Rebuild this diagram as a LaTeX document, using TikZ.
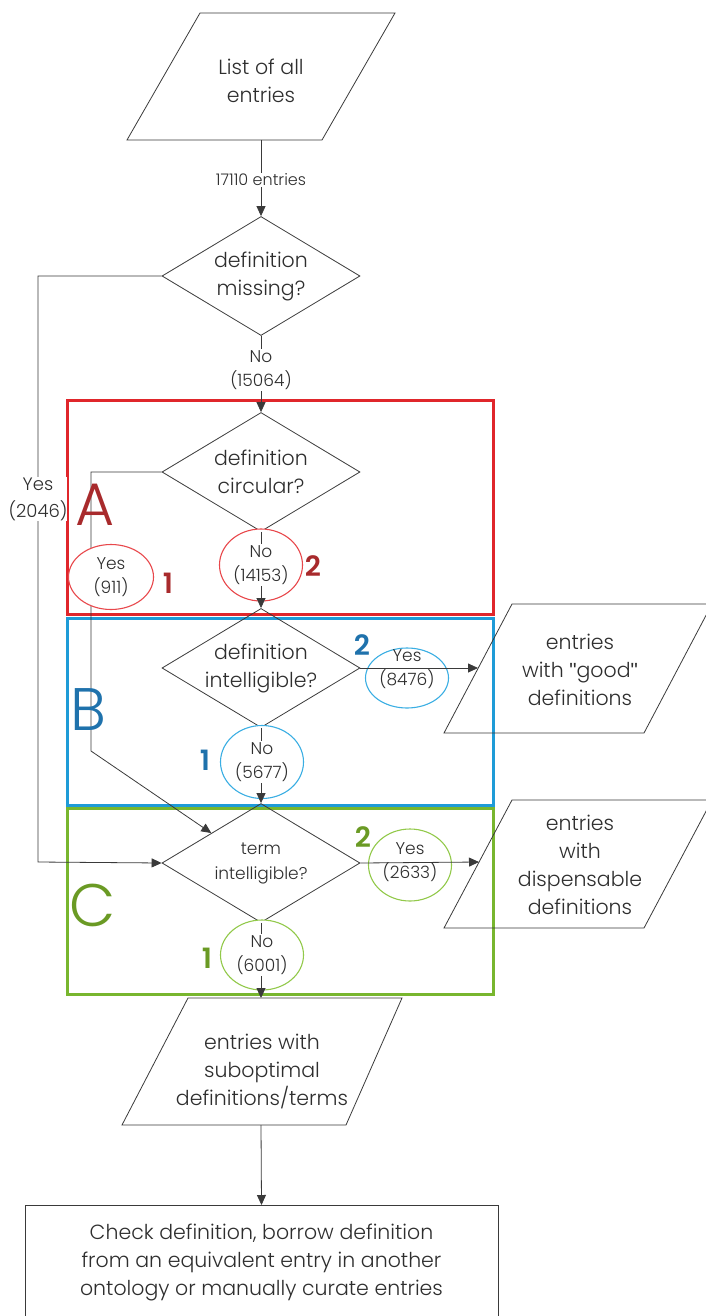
\documentclass[tikz,border=0pt]{standalone}
\usepackage{fontspec}
\setmainfont{Poppins}[UprightFont=* Light, BoldFont=* SemiBold]
\newfontfamily\qfont{Liberation Sans}
\usetikzlibrary{shapes.geometric,arrows.meta}
\definecolor{ln}{HTML}{3A3A3A}
\definecolor{txt}{HTML}{2E2E2E}
\definecolor{redbox}{HTML}{E0262B}
\definecolor{redov}{HTML}{E8474B}
\definecolor{redlt}{HTML}{A82A2C}
\definecolor{bluebox}{HTML}{1E9BD7}
\definecolor{blueov}{HTML}{3AAEE3}
\definecolor{bluelt}{HTML}{1F72AC}
\definecolor{greenbox}{HTML}{78B62E}
\definecolor{greenov}{HTML}{92C94A}
\definecolor{greenlt}{HTML}{6A9A24}
\newcommand{\dq}{{\qfont\char"22}}
\begin{document}
\begin{tikzpicture}[x=1pt,y=-1pt,
  every node/.style={text=txt, font=\fontsize{20.5}{28}\selectfont, align=center},
  dec/.style={diamond, draw=ln, line width=0.8pt, aspect=1.6, minimum width=198pt, minimum height=119pt, inner sep=0pt},
  oval/.style={ellipse, line width=1.1pt, fill=white, minimum width=83pt, minimum height=72pt, inner sep=0pt},
  lbl/.style={font=\fontsize{17}{24}\selectfont, inner sep=1pt},
  conn/.style={draw=ln, line width=0.8pt},
  arr/.style={conn, -{Triangle[length=10pt,width=9pt]}},
  zone/.style={line width=3pt},
  big/.style={font=\fontsize{60}{60}\selectfont, inner sep=0pt},
  num/.style={font=\bfseries\fontsize{28}{28}\selectfont, inner sep=0pt},
]
\useasboundingbox (0,0) rectangle (706,1316);
% zones
\draw[zone, draw=redbox] (67,400) rectangle (493,614);
\draw[zone, draw=bluebox] (67,618) rectangle (493,805);
\draw[zone, draw=greenbox] (67,808) rectangle (493,994);
% start parallelogram
\coordinate (s1) at (200,13); \coordinate (s2) at (395,13);
\coordinate (s3) at (322,140); \coordinate (s4) at (127,140);
\draw[conn] (s1) -- (s2) -- (s3) -- (s4) -- cycle;
\node (start) at (261,81) {List of all\\entries};
\coordinate (sb) at (261,140);
% decisions
\node[dec] (d1) at (261,276) {definition\\missing?};
\node[dec] (d2) at (261,472) {definition\\circular?};
\node[dec] (d3) at (261,668) {definition\\intelligible?};
\node[dec, font=\fontsize{17}{25}\selectfont] (dC) at (261,863) {term\\intelligible?};
% good parallelogram
\coordinate (g1) at (512,604); \coordinate (g2) at (712,604);
\coordinate (g3) at (644,733); \coordinate (g4) at (444,733);
\draw[conn] (g1) -- (g2) -- (g3) -- (g4) -- cycle;
\node (good) at (580,670) {entries\\with \dq good\dq\\definitions};
\coordinate (ge) at (478,668);
% dispensable parallelogram
\coordinate (h1) at (512,800); \coordinate (h2) at (712,800);
\coordinate (h3) at (644,928); \coordinate (h4) at (444,928);
\draw[conn] (h1) -- (h2) -- (h3) -- (h4) -- cycle;
\node (disp) at (580,865) {entries\\with\\dispensable\\definitions};
\coordinate (he) at (479,862);
% suboptimal parallelogram
\coordinate (p1) at (188,998); \coordinate (p2) at (402,998);
\coordinate (p3) at (346,1125); \coordinate (p4) at (122,1125);
\draw[conn] (p1) -- (p2) -- (p3) -- (p4) -- cycle;
\node (subopt) at (262,1071) {entries with\\suboptimal\\definitions/terms};
\coordinate (pt) at (261,998);
\coordinate (pb) at (261,1125);
% final box
\node[conn, draw=ln, minimum width=473pt, minimum height=114pt, anchor=north, inner sep=0pt] (final) at (261.5,1205)
  {Check definition, borrow definition\\from an equivalent entry in another\\ontology or manually curate entries};
% left branches
\coordinate (c3) at (38,276); \coordinate (c4) at (38,862);
\draw[arr] (d1.west) -- (c3) -- (c4) -- (dC.west);
\node[lbl, fill=white, inner xsep=0pt, font=\fontsize{18}{27}\selectfont] (y2046) at (38,499) {Yes\\(2046)};
\coordinate (c1) at (91,472); \coordinate (c2) at (91,751);
\draw[arr] (d2.west) -- (c1) -- (c2) -- (dC.north west);
% ellipses
\node[oval, draw=redov, minimum width=85pt, minimum height=65pt] (e911) at (111,577) {};
\node[oval, draw=redov] (e14153) at (261,565) {};
\node[oval, draw=blueov, minimum height=60pt] (e8476) at (407,678) {};
\node[oval, draw=blueov, minimum height=73pt] (e5677) at (262,762) {};
\node[oval, draw=greenov] (e2633) at (410,865) {};
\node[oval, draw=greenov, minimum height=70pt] (e6001) at (262,955) {};
% main connectors
\draw[arr] (sb) -- (d1.north);
\node[lbl, fill=white, font=\fontsize{16}{20}\selectfont] (l17110) at (261,180) {17110 entries};
\draw[arr] (d1.south) -- (d2.north);
\node[lbl, fill=white] (l15064) at (261,370) {No\\(15064)};
\draw[arr] (d2.south) -- (d3.north);
\draw[arr] (d3.south) -- (dC.north);
\draw[arr] (dC.south) -- (pt);
\draw[arr] (d3.east) -- (ge);
\draw[arr] (dC.east) -- (he);
\draw[arr] (pb) -- (final.north);
% ellipse texts
\node[lbl] (t911) at (111,577) {Yes\\(911)};
\node[lbl, fill=white] (t14153) at (261,565) {No\\(14153)};
\node[lbl] (t8476) at (407,669) {Yes\\(8476)};
\node[lbl, fill=white] (t5677) at (262,762) {No\\(5677)};
\node[lbl] (t2633) at (410,862) {Yes\\(2633)};
\node[lbl, fill=white] (t6001) at (262,955) {No\\(6001)};
% zone letters and numbers
\node[big, text=redlt] (zA) at (95,505) {A};
\node[big, text=bluelt] (zB) at (88,710) {B};
\node[big, text=greenlt] (zC) at (93,905) {C};
\node[num, text=redlt] (nA1) at (168,583) {1};
\node[num, text=redlt] (nA2) at (313,566) {2};
\node[num, text=bluelt] (nB2) at (362,645) {2};
\node[num, text=bluelt] (nB1) at (205,760) {1};
\node[num, text=greenlt] (nC2) at (363,837) {2};
\node[num, text=greenlt] (nC1) at (207,958) {1};
\end{tikzpicture}
\end{document}
